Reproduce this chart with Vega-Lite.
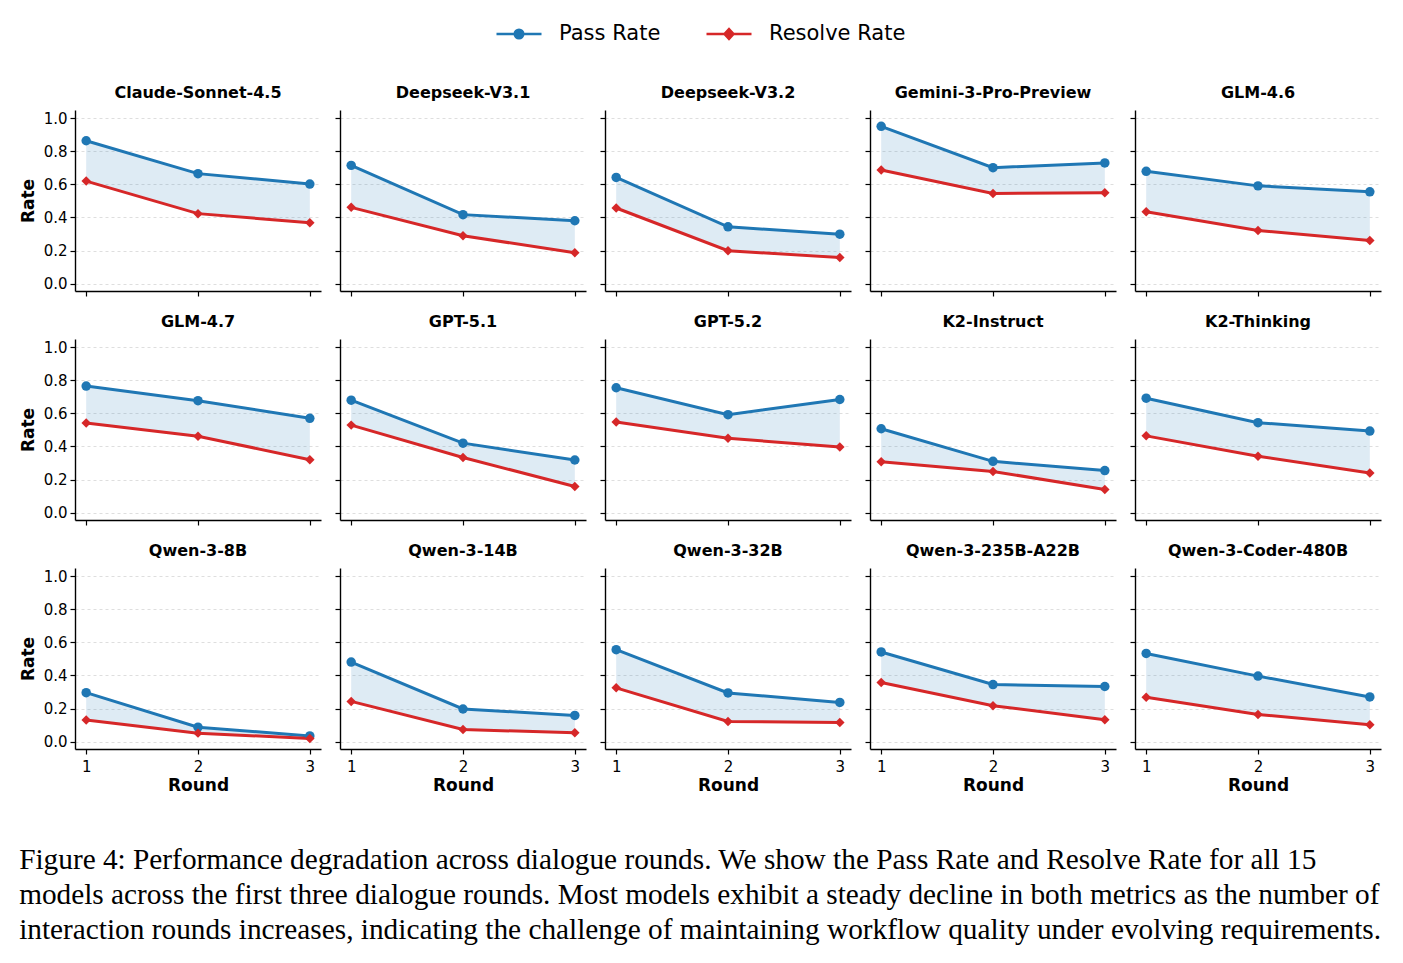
{
  "$schema": "https://vega.github.io/schema/vega-lite/v6.json",
  "padding": {"left": 19, "top": 10, "right": 5, "bottom": 5},
  "datasets": {
    "rates": [
      {"model": "Claude-Sonnet-4.5", "round": 1, "Pass Rate": 0.864, "Resolve Rate": 0.62},
      {"model": "Claude-Sonnet-4.5", "round": 2, "Pass Rate": 0.665, "Resolve Rate": 0.423},
      {"model": "Claude-Sonnet-4.5", "round": 3, "Pass Rate": 0.602, "Resolve Rate": 0.368},
      {"model": "Deepseek-V3.1", "round": 1, "Pass Rate": 0.715, "Resolve Rate": 0.461},
      {"model": "Deepseek-V3.1", "round": 2, "Pass Rate": 0.417, "Resolve Rate": 0.289},
      {"model": "Deepseek-V3.1", "round": 3, "Pass Rate": 0.38, "Resolve Rate": 0.187},
      {"model": "Deepseek-V3.2", "round": 1, "Pass Rate": 0.642, "Resolve Rate": 0.457},
      {"model": "Deepseek-V3.2", "round": 2, "Pass Rate": 0.343, "Resolve Rate": 0.199},
      {"model": "Deepseek-V3.2", "round": 3, "Pass Rate": 0.299, "Resolve Rate": 0.157},
      {"model": "Gemini-3-Pro-Preview", "round": 1, "Pass Rate": 0.951, "Resolve Rate": 0.687},
      {"model": "Gemini-3-Pro-Preview", "round": 2, "Pass Rate": 0.701, "Resolve Rate": 0.545},
      {"model": "Gemini-3-Pro-Preview", "round": 3, "Pass Rate": 0.73, "Resolve Rate": 0.549},
      {"model": "GLM-4.6", "round": 1, "Pass Rate": 0.679, "Resolve Rate": 0.435},
      {"model": "GLM-4.6", "round": 2, "Pass Rate": 0.591, "Resolve Rate": 0.321},
      {"model": "GLM-4.6", "round": 3, "Pass Rate": 0.555, "Resolve Rate": 0.26},
      {"model": "GLM-4.7", "round": 1, "Pass Rate": 0.765, "Resolve Rate": 0.542},
      {"model": "GLM-4.7", "round": 2, "Pass Rate": 0.677, "Resolve Rate": 0.462},
      {"model": "GLM-4.7", "round": 3, "Pass Rate": 0.57, "Resolve Rate": 0.32},
      {"model": "GPT-5.1", "round": 1, "Pass Rate": 0.68, "Resolve Rate": 0.529},
      {"model": "GPT-5.1", "round": 2, "Pass Rate": 0.42, "Resolve Rate": 0.333},
      {"model": "GPT-5.1", "round": 3, "Pass Rate": 0.318, "Resolve Rate": 0.158},
      {"model": "GPT-5.2", "round": 1, "Pass Rate": 0.755, "Resolve Rate": 0.548},
      {"model": "GPT-5.2", "round": 2, "Pass Rate": 0.592, "Resolve Rate": 0.45},
      {"model": "GPT-5.2", "round": 3, "Pass Rate": 0.684, "Resolve Rate": 0.396},
      {"model": "K2-Instruct", "round": 1, "Pass Rate": 0.507, "Resolve Rate": 0.308},
      {"model": "K2-Instruct", "round": 2, "Pass Rate": 0.31, "Resolve Rate": 0.249},
      {"model": "K2-Instruct", "round": 3, "Pass Rate": 0.254, "Resolve Rate": 0.14},
      {"model": "K2-Thinking", "round": 1, "Pass Rate": 0.692, "Resolve Rate": 0.464},
      {"model": "K2-Thinking", "round": 2, "Pass Rate": 0.544, "Resolve Rate": 0.341},
      {"model": "K2-Thinking", "round": 3, "Pass Rate": 0.493, "Resolve Rate": 0.239},
      {"model": "Qwen-3-8B", "round": 1, "Pass Rate": 0.296, "Resolve Rate": 0.13},
      {"model": "Qwen-3-8B", "round": 2, "Pass Rate": 0.087, "Resolve Rate": 0.051},
      {"model": "Qwen-3-8B", "round": 3, "Pass Rate": 0.034, "Resolve Rate": 0.018},
      {"model": "Qwen-3-14B", "round": 1, "Pass Rate": 0.481, "Resolve Rate": 0.243},
      {"model": "Qwen-3-14B", "round": 2, "Pass Rate": 0.197, "Resolve Rate": 0.073},
      {"model": "Qwen-3-14B", "round": 3, "Pass Rate": 0.158, "Resolve Rate": 0.053},
      {"model": "Qwen-3-32B", "round": 1, "Pass Rate": 0.556, "Resolve Rate": 0.325},
      {"model": "Qwen-3-32B", "round": 2, "Pass Rate": 0.294, "Resolve Rate": 0.122},
      {"model": "Qwen-3-32B", "round": 3, "Pass Rate": 0.237, "Resolve Rate": 0.116},
      {"model": "Qwen-3-235B-A22B", "round": 1, "Pass Rate": 0.542, "Resolve Rate": 0.357},
      {"model": "Qwen-3-235B-A22B", "round": 2, "Pass Rate": 0.345, "Resolve Rate": 0.217},
      {"model": "Qwen-3-235B-A22B", "round": 3, "Pass Rate": 0.333, "Resolve Rate": 0.132},
      {"model": "Qwen-3-Coder-480B", "round": 1, "Pass Rate": 0.533, "Resolve Rate": 0.268},
      {"model": "Qwen-3-Coder-480B", "round": 2, "Pass Rate": 0.396, "Resolve Rate": 0.164},
      {"model": "Qwen-3-Coder-480B", "round": 3, "Pass Rate": 0.27, "Resolve Rate": 0.101}
    ]
  },
  "data": {"name": "rates"},
  "title": {
    "text": [
      "Figure 4: Performance degradation across dialogue rounds. We show the Pass Rate and Resolve Rate for all 15",
      "models across the first three dialogue rounds. Most models exhibit a steady decline in both metrics as the number of",
      "interaction rounds increases, indicating the challenge of maintaining workflow quality under evolving requirements."
    ],
    "orient": "bottom", "anchor": "start", "frame": "bounds",
    "font": "Liberation Serif", "fontSize": 29.3, "fontWeight": "normal", "lineHeight": 35, "offset": 53, "color": "#000000"
  },
  "spacing": 17,
  "vconcat": [
    {"spacing": 13, "hconcat": [
      {"title": "Claude-Sonnet-4.5", "width": 246, "height": 181,
       "transform": [{"filter": {"field": "model", "equal": "Claude-Sonnet-4.5"}}],
       "encoding": {"x": {"field": "round", "type": "quantitative", "scale": {"domain": [0.9, 3.1], "nice": false, "zero": false}, "axis": {"labels": false}, "title": null}},
       "layer": [
         {"mark": {"type": "area", "color": "#1f77b4", "opacity": 0.15},
          "encoding": {"y": {"field": "Pass Rate", "type": "quantitative", "scale": {"domain": [-0.045, 1.05], "nice": false, "zero": false}, "axis": {"labels": true}, "title": "Rate"}, "y2": {"field": "Resolve Rate"}}},
         {"transform": [{"fold": ["Pass Rate", "Resolve Rate"], "as": ["metric", "value"]}],
          "encoding": {"y": {"field": "value", "type": "quantitative", "title": "Rate", "axis": {"labels": true}},
            "color": {"field": "metric", "type": "nominal", "scale": {"domain": ["Pass Rate", "Resolve Rate"], "range": ["#1f77b4", "#d62728"]},
              "legend": {"title": null, "orient": "top", "direction": "horizontal", "symbolSize": 2025, "symbolStrokeWidth": 2.5,
                "symbolType": "M-1,0L1,0M-0.19,0A0.19,0.19,0,1,1,0.19,0A0.19,0.19,0,1,1,-0.19,0Z",
                "labelFont": "DejaVu Sans", "labelFontSize": 21, "labelColor": "#000000", "labelOffset": 16, "columnPadding": 40,
                "encoding": {"symbols": {
                  "shape": {"value": {"expr": "datum.value === 'Pass Rate' ? 'M-1,0L1,0M-0.19,0A0.19,0.19,0,1,1,0.19,0A0.19,0.19,0,1,1,-0.19,0Z' : 'M-1,0L1,0M0,-0.22L0.2,0L0,0.22L-0.2,0Z'"}},
                  "fill": {"value": {"expr": "datum.value === 'Pass Rate' ? '#1f77b4' : '#d62728'"}},
                  "stroke": {"value": {"expr": "datum.value === 'Pass Rate' ? '#1f77b4' : '#d62728'"}},
                  "strokeWidth": {"value": 2.5},
                  "opacity": {"value": 1}}}}}},
          "layer": [
            {"mark": {"type": "line", "strokeWidth": 3}},
            {"transform": [{"filter": {"field": "metric", "equal": "Pass Rate"}}], "mark": {"type": "point", "filled": true, "size": 90, "opacity": 1, "shape": "circle"}},
            {"transform": [{"filter": {"field": "metric", "equal": "Resolve Rate"}}], "mark": {"type": "point", "filled": true, "size": 90, "opacity": 1, "shape": "diamond"}}
          ]}
       ]},
      {"title": "Deepseek-V3.1", "width": 246, "height": 181,
       "transform": [{"filter": {"field": "model", "equal": "Deepseek-V3.1"}}],
       "encoding": {"x": {"field": "round", "type": "quantitative", "scale": {"domain": [0.9, 3.1], "nice": false, "zero": false}, "axis": {"labels": false}, "title": null}},
       "layer": [
         {"mark": {"type": "area", "color": "#1f77b4", "opacity": 0.15},
          "encoding": {"y": {"field": "Pass Rate", "type": "quantitative", "scale": {"domain": [-0.045, 1.05], "nice": false, "zero": false}, "axis": {"labels": false}, "title": null}, "y2": {"field": "Resolve Rate"}}},
         {"transform": [{"fold": ["Pass Rate", "Resolve Rate"], "as": ["metric", "value"]}],
          "encoding": {"y": {"field": "value", "type": "quantitative", "title": null, "axis": {"labels": false}},
            "color": {"field": "metric", "type": "nominal", "scale": {"domain": ["Pass Rate", "Resolve Rate"], "range": ["#1f77b4", "#d62728"]}, "legend": null}},
          "layer": [
            {"mark": {"type": "line", "strokeWidth": 3}},
            {"transform": [{"filter": {"field": "metric", "equal": "Pass Rate"}}], "mark": {"type": "point", "filled": true, "size": 90, "opacity": 1, "shape": "circle"}},
            {"transform": [{"filter": {"field": "metric", "equal": "Resolve Rate"}}], "mark": {"type": "point", "filled": true, "size": 90, "opacity": 1, "shape": "diamond"}}
          ]}
       ]},
      {"title": "Deepseek-V3.2", "width": 246, "height": 181,
       "transform": [{"filter": {"field": "model", "equal": "Deepseek-V3.2"}}],
       "encoding": {"x": {"field": "round", "type": "quantitative", "scale": {"domain": [0.9, 3.1], "nice": false, "zero": false}, "axis": {"labels": false}, "title": null}},
       "layer": [
         {"mark": {"type": "area", "color": "#1f77b4", "opacity": 0.15},
          "encoding": {"y": {"field": "Pass Rate", "type": "quantitative", "scale": {"domain": [-0.045, 1.05], "nice": false, "zero": false}, "axis": {"labels": false}, "title": null}, "y2": {"field": "Resolve Rate"}}},
         {"transform": [{"fold": ["Pass Rate", "Resolve Rate"], "as": ["metric", "value"]}],
          "encoding": {"y": {"field": "value", "type": "quantitative", "title": null, "axis": {"labels": false}},
            "color": {"field": "metric", "type": "nominal", "scale": {"domain": ["Pass Rate", "Resolve Rate"], "range": ["#1f77b4", "#d62728"]}, "legend": null}},
          "layer": [
            {"mark": {"type": "line", "strokeWidth": 3}},
            {"transform": [{"filter": {"field": "metric", "equal": "Pass Rate"}}], "mark": {"type": "point", "filled": true, "size": 90, "opacity": 1, "shape": "circle"}},
            {"transform": [{"filter": {"field": "metric", "equal": "Resolve Rate"}}], "mark": {"type": "point", "filled": true, "size": 90, "opacity": 1, "shape": "diamond"}}
          ]}
       ]},
      {"title": "Gemini-3-Pro-Preview", "width": 246, "height": 181,
       "transform": [{"filter": {"field": "model", "equal": "Gemini-3-Pro-Preview"}}],
       "encoding": {"x": {"field": "round", "type": "quantitative", "scale": {"domain": [0.9, 3.1], "nice": false, "zero": false}, "axis": {"labels": false}, "title": null}},
       "layer": [
         {"mark": {"type": "area", "color": "#1f77b4", "opacity": 0.15},
          "encoding": {"y": {"field": "Pass Rate", "type": "quantitative", "scale": {"domain": [-0.045, 1.05], "nice": false, "zero": false}, "axis": {"labels": false}, "title": null}, "y2": {"field": "Resolve Rate"}}},
         {"transform": [{"fold": ["Pass Rate", "Resolve Rate"], "as": ["metric", "value"]}],
          "encoding": {"y": {"field": "value", "type": "quantitative", "title": null, "axis": {"labels": false}},
            "color": {"field": "metric", "type": "nominal", "scale": {"domain": ["Pass Rate", "Resolve Rate"], "range": ["#1f77b4", "#d62728"]}, "legend": null}},
          "layer": [
            {"mark": {"type": "line", "strokeWidth": 3}},
            {"transform": [{"filter": {"field": "metric", "equal": "Pass Rate"}}], "mark": {"type": "point", "filled": true, "size": 90, "opacity": 1, "shape": "circle"}},
            {"transform": [{"filter": {"field": "metric", "equal": "Resolve Rate"}}], "mark": {"type": "point", "filled": true, "size": 90, "opacity": 1, "shape": "diamond"}}
          ]}
       ]},
      {"title": "GLM-4.6", "width": 246, "height": 181,
       "transform": [{"filter": {"field": "model", "equal": "GLM-4.6"}}],
       "encoding": {"x": {"field": "round", "type": "quantitative", "scale": {"domain": [0.9, 3.1], "nice": false, "zero": false}, "axis": {"labels": false}, "title": null}},
       "layer": [
         {"mark": {"type": "area", "color": "#1f77b4", "opacity": 0.15},
          "encoding": {"y": {"field": "Pass Rate", "type": "quantitative", "scale": {"domain": [-0.045, 1.05], "nice": false, "zero": false}, "axis": {"labels": false}, "title": null}, "y2": {"field": "Resolve Rate"}}},
         {"transform": [{"fold": ["Pass Rate", "Resolve Rate"], "as": ["metric", "value"]}],
          "encoding": {"y": {"field": "value", "type": "quantitative", "title": null, "axis": {"labels": false}},
            "color": {"field": "metric", "type": "nominal", "scale": {"domain": ["Pass Rate", "Resolve Rate"], "range": ["#1f77b4", "#d62728"]}, "legend": null}},
          "layer": [
            {"mark": {"type": "line", "strokeWidth": 3}},
            {"transform": [{"filter": {"field": "metric", "equal": "Pass Rate"}}], "mark": {"type": "point", "filled": true, "size": 90, "opacity": 1, "shape": "circle"}},
            {"transform": [{"filter": {"field": "metric", "equal": "Resolve Rate"}}], "mark": {"type": "point", "filled": true, "size": 90, "opacity": 1, "shape": "diamond"}}
          ]}
       ]}
    ]},
    {"spacing": 13, "hconcat": [
      {"title": "GLM-4.7", "width": 246, "height": 181,
       "transform": [{"filter": {"field": "model", "equal": "GLM-4.7"}}],
       "encoding": {"x": {"field": "round", "type": "quantitative", "scale": {"domain": [0.9, 3.1], "nice": false, "zero": false}, "axis": {"labels": false}, "title": null}},
       "layer": [
         {"mark": {"type": "area", "color": "#1f77b4", "opacity": 0.15},
          "encoding": {"y": {"field": "Pass Rate", "type": "quantitative", "scale": {"domain": [-0.045, 1.05], "nice": false, "zero": false}, "axis": {"labels": true}, "title": "Rate"}, "y2": {"field": "Resolve Rate"}}},
         {"transform": [{"fold": ["Pass Rate", "Resolve Rate"], "as": ["metric", "value"]}],
          "encoding": {"y": {"field": "value", "type": "quantitative", "title": "Rate", "axis": {"labels": true}},
            "color": {"field": "metric", "type": "nominal", "scale": {"domain": ["Pass Rate", "Resolve Rate"], "range": ["#1f77b4", "#d62728"]}, "legend": null}},
          "layer": [
            {"mark": {"type": "line", "strokeWidth": 3}},
            {"transform": [{"filter": {"field": "metric", "equal": "Pass Rate"}}], "mark": {"type": "point", "filled": true, "size": 90, "opacity": 1, "shape": "circle"}},
            {"transform": [{"filter": {"field": "metric", "equal": "Resolve Rate"}}], "mark": {"type": "point", "filled": true, "size": 90, "opacity": 1, "shape": "diamond"}}
          ]}
       ]},
      {"title": "GPT-5.1", "width": 246, "height": 181,
       "transform": [{"filter": {"field": "model", "equal": "GPT-5.1"}}],
       "encoding": {"x": {"field": "round", "type": "quantitative", "scale": {"domain": [0.9, 3.1], "nice": false, "zero": false}, "axis": {"labels": false}, "title": null}},
       "layer": [
         {"mark": {"type": "area", "color": "#1f77b4", "opacity": 0.15},
          "encoding": {"y": {"field": "Pass Rate", "type": "quantitative", "scale": {"domain": [-0.045, 1.05], "nice": false, "zero": false}, "axis": {"labels": false}, "title": null}, "y2": {"field": "Resolve Rate"}}},
         {"transform": [{"fold": ["Pass Rate", "Resolve Rate"], "as": ["metric", "value"]}],
          "encoding": {"y": {"field": "value", "type": "quantitative", "title": null, "axis": {"labels": false}},
            "color": {"field": "metric", "type": "nominal", "scale": {"domain": ["Pass Rate", "Resolve Rate"], "range": ["#1f77b4", "#d62728"]}, "legend": null}},
          "layer": [
            {"mark": {"type": "line", "strokeWidth": 3}},
            {"transform": [{"filter": {"field": "metric", "equal": "Pass Rate"}}], "mark": {"type": "point", "filled": true, "size": 90, "opacity": 1, "shape": "circle"}},
            {"transform": [{"filter": {"field": "metric", "equal": "Resolve Rate"}}], "mark": {"type": "point", "filled": true, "size": 90, "opacity": 1, "shape": "diamond"}}
          ]}
       ]},
      {"title": "GPT-5.2", "width": 246, "height": 181,
       "transform": [{"filter": {"field": "model", "equal": "GPT-5.2"}}],
       "encoding": {"x": {"field": "round", "type": "quantitative", "scale": {"domain": [0.9, 3.1], "nice": false, "zero": false}, "axis": {"labels": false}, "title": null}},
       "layer": [
         {"mark": {"type": "area", "color": "#1f77b4", "opacity": 0.15},
          "encoding": {"y": {"field": "Pass Rate", "type": "quantitative", "scale": {"domain": [-0.045, 1.05], "nice": false, "zero": false}, "axis": {"labels": false}, "title": null}, "y2": {"field": "Resolve Rate"}}},
         {"transform": [{"fold": ["Pass Rate", "Resolve Rate"], "as": ["metric", "value"]}],
          "encoding": {"y": {"field": "value", "type": "quantitative", "title": null, "axis": {"labels": false}},
            "color": {"field": "metric", "type": "nominal", "scale": {"domain": ["Pass Rate", "Resolve Rate"], "range": ["#1f77b4", "#d62728"]}, "legend": null}},
          "layer": [
            {"mark": {"type": "line", "strokeWidth": 3}},
            {"transform": [{"filter": {"field": "metric", "equal": "Pass Rate"}}], "mark": {"type": "point", "filled": true, "size": 90, "opacity": 1, "shape": "circle"}},
            {"transform": [{"filter": {"field": "metric", "equal": "Resolve Rate"}}], "mark": {"type": "point", "filled": true, "size": 90, "opacity": 1, "shape": "diamond"}}
          ]}
       ]},
      {"title": "K2-Instruct", "width": 246, "height": 181,
       "transform": [{"filter": {"field": "model", "equal": "K2-Instruct"}}],
       "encoding": {"x": {"field": "round", "type": "quantitative", "scale": {"domain": [0.9, 3.1], "nice": false, "zero": false}, "axis": {"labels": false}, "title": null}},
       "layer": [
         {"mark": {"type": "area", "color": "#1f77b4", "opacity": 0.15},
          "encoding": {"y": {"field": "Pass Rate", "type": "quantitative", "scale": {"domain": [-0.045, 1.05], "nice": false, "zero": false}, "axis": {"labels": false}, "title": null}, "y2": {"field": "Resolve Rate"}}},
         {"transform": [{"fold": ["Pass Rate", "Resolve Rate"], "as": ["metric", "value"]}],
          "encoding": {"y": {"field": "value", "type": "quantitative", "title": null, "axis": {"labels": false}},
            "color": {"field": "metric", "type": "nominal", "scale": {"domain": ["Pass Rate", "Resolve Rate"], "range": ["#1f77b4", "#d62728"]}, "legend": null}},
          "layer": [
            {"mark": {"type": "line", "strokeWidth": 3}},
            {"transform": [{"filter": {"field": "metric", "equal": "Pass Rate"}}], "mark": {"type": "point", "filled": true, "size": 90, "opacity": 1, "shape": "circle"}},
            {"transform": [{"filter": {"field": "metric", "equal": "Resolve Rate"}}], "mark": {"type": "point", "filled": true, "size": 90, "opacity": 1, "shape": "diamond"}}
          ]}
       ]},
      {"title": "K2-Thinking", "width": 246, "height": 181,
       "transform": [{"filter": {"field": "model", "equal": "K2-Thinking"}}],
       "encoding": {"x": {"field": "round", "type": "quantitative", "scale": {"domain": [0.9, 3.1], "nice": false, "zero": false}, "axis": {"labels": false}, "title": null}},
       "layer": [
         {"mark": {"type": "area", "color": "#1f77b4", "opacity": 0.15},
          "encoding": {"y": {"field": "Pass Rate", "type": "quantitative", "scale": {"domain": [-0.045, 1.05], "nice": false, "zero": false}, "axis": {"labels": false}, "title": null}, "y2": {"field": "Resolve Rate"}}},
         {"transform": [{"fold": ["Pass Rate", "Resolve Rate"], "as": ["metric", "value"]}],
          "encoding": {"y": {"field": "value", "type": "quantitative", "title": null, "axis": {"labels": false}},
            "color": {"field": "metric", "type": "nominal", "scale": {"domain": ["Pass Rate", "Resolve Rate"], "range": ["#1f77b4", "#d62728"]}, "legend": null}},
          "layer": [
            {"mark": {"type": "line", "strokeWidth": 3}},
            {"transform": [{"filter": {"field": "metric", "equal": "Pass Rate"}}], "mark": {"type": "point", "filled": true, "size": 90, "opacity": 1, "shape": "circle"}},
            {"transform": [{"filter": {"field": "metric", "equal": "Resolve Rate"}}], "mark": {"type": "point", "filled": true, "size": 90, "opacity": 1, "shape": "diamond"}}
          ]}
       ]}
    ]},
    {"spacing": 13, "hconcat": [
      {"title": "Qwen-3-8B", "width": 246, "height": 181,
       "transform": [{"filter": {"field": "model", "equal": "Qwen-3-8B"}}],
       "encoding": {"x": {"field": "round", "type": "quantitative", "scale": {"domain": [0.9, 3.1], "nice": false, "zero": false}, "axis": {"labels": true}, "title": "Round"}},
       "layer": [
         {"mark": {"type": "area", "color": "#1f77b4", "opacity": 0.15},
          "encoding": {"y": {"field": "Pass Rate", "type": "quantitative", "scale": {"domain": [-0.045, 1.05], "nice": false, "zero": false}, "axis": {"labels": true}, "title": "Rate"}, "y2": {"field": "Resolve Rate"}}},
         {"transform": [{"fold": ["Pass Rate", "Resolve Rate"], "as": ["metric", "value"]}],
          "encoding": {"y": {"field": "value", "type": "quantitative", "title": "Rate", "axis": {"labels": true}},
            "color": {"field": "metric", "type": "nominal", "scale": {"domain": ["Pass Rate", "Resolve Rate"], "range": ["#1f77b4", "#d62728"]}, "legend": null}},
          "layer": [
            {"mark": {"type": "line", "strokeWidth": 3}},
            {"transform": [{"filter": {"field": "metric", "equal": "Pass Rate"}}], "mark": {"type": "point", "filled": true, "size": 90, "opacity": 1, "shape": "circle"}},
            {"transform": [{"filter": {"field": "metric", "equal": "Resolve Rate"}}], "mark": {"type": "point", "filled": true, "size": 90, "opacity": 1, "shape": "diamond"}}
          ]}
       ]},
      {"title": "Qwen-3-14B", "width": 246, "height": 181,
       "transform": [{"filter": {"field": "model", "equal": "Qwen-3-14B"}}],
       "encoding": {"x": {"field": "round", "type": "quantitative", "scale": {"domain": [0.9, 3.1], "nice": false, "zero": false}, "axis": {"labels": true}, "title": "Round"}},
       "layer": [
         {"mark": {"type": "area", "color": "#1f77b4", "opacity": 0.15},
          "encoding": {"y": {"field": "Pass Rate", "type": "quantitative", "scale": {"domain": [-0.045, 1.05], "nice": false, "zero": false}, "axis": {"labels": false}, "title": null}, "y2": {"field": "Resolve Rate"}}},
         {"transform": [{"fold": ["Pass Rate", "Resolve Rate"], "as": ["metric", "value"]}],
          "encoding": {"y": {"field": "value", "type": "quantitative", "title": null, "axis": {"labels": false}},
            "color": {"field": "metric", "type": "nominal", "scale": {"domain": ["Pass Rate", "Resolve Rate"], "range": ["#1f77b4", "#d62728"]}, "legend": null}},
          "layer": [
            {"mark": {"type": "line", "strokeWidth": 3}},
            {"transform": [{"filter": {"field": "metric", "equal": "Pass Rate"}}], "mark": {"type": "point", "filled": true, "size": 90, "opacity": 1, "shape": "circle"}},
            {"transform": [{"filter": {"field": "metric", "equal": "Resolve Rate"}}], "mark": {"type": "point", "filled": true, "size": 90, "opacity": 1, "shape": "diamond"}}
          ]}
       ]},
      {"title": "Qwen-3-32B", "width": 246, "height": 181,
       "transform": [{"filter": {"field": "model", "equal": "Qwen-3-32B"}}],
       "encoding": {"x": {"field": "round", "type": "quantitative", "scale": {"domain": [0.9, 3.1], "nice": false, "zero": false}, "axis": {"labels": true}, "title": "Round"}},
       "layer": [
         {"mark": {"type": "area", "color": "#1f77b4", "opacity": 0.15},
          "encoding": {"y": {"field": "Pass Rate", "type": "quantitative", "scale": {"domain": [-0.045, 1.05], "nice": false, "zero": false}, "axis": {"labels": false}, "title": null}, "y2": {"field": "Resolve Rate"}}},
         {"transform": [{"fold": ["Pass Rate", "Resolve Rate"], "as": ["metric", "value"]}],
          "encoding": {"y": {"field": "value", "type": "quantitative", "title": null, "axis": {"labels": false}},
            "color": {"field": "metric", "type": "nominal", "scale": {"domain": ["Pass Rate", "Resolve Rate"], "range": ["#1f77b4", "#d62728"]}, "legend": null}},
          "layer": [
            {"mark": {"type": "line", "strokeWidth": 3}},
            {"transform": [{"filter": {"field": "metric", "equal": "Pass Rate"}}], "mark": {"type": "point", "filled": true, "size": 90, "opacity": 1, "shape": "circle"}},
            {"transform": [{"filter": {"field": "metric", "equal": "Resolve Rate"}}], "mark": {"type": "point", "filled": true, "size": 90, "opacity": 1, "shape": "diamond"}}
          ]}
       ]},
      {"title": "Qwen-3-235B-A22B", "width": 246, "height": 181,
       "transform": [{"filter": {"field": "model", "equal": "Qwen-3-235B-A22B"}}],
       "encoding": {"x": {"field": "round", "type": "quantitative", "scale": {"domain": [0.9, 3.1], "nice": false, "zero": false}, "axis": {"labels": true}, "title": "Round"}},
       "layer": [
         {"mark": {"type": "area", "color": "#1f77b4", "opacity": 0.15},
          "encoding": {"y": {"field": "Pass Rate", "type": "quantitative", "scale": {"domain": [-0.045, 1.05], "nice": false, "zero": false}, "axis": {"labels": false}, "title": null}, "y2": {"field": "Resolve Rate"}}},
         {"transform": [{"fold": ["Pass Rate", "Resolve Rate"], "as": ["metric", "value"]}],
          "encoding": {"y": {"field": "value", "type": "quantitative", "title": null, "axis": {"labels": false}},
            "color": {"field": "metric", "type": "nominal", "scale": {"domain": ["Pass Rate", "Resolve Rate"], "range": ["#1f77b4", "#d62728"]}, "legend": null}},
          "layer": [
            {"mark": {"type": "line", "strokeWidth": 3}},
            {"transform": [{"filter": {"field": "metric", "equal": "Pass Rate"}}], "mark": {"type": "point", "filled": true, "size": 90, "opacity": 1, "shape": "circle"}},
            {"transform": [{"filter": {"field": "metric", "equal": "Resolve Rate"}}], "mark": {"type": "point", "filled": true, "size": 90, "opacity": 1, "shape": "diamond"}}
          ]}
       ]},
      {"title": "Qwen-3-Coder-480B", "width": 246, "height": 181,
       "transform": [{"filter": {"field": "model", "equal": "Qwen-3-Coder-480B"}}],
       "encoding": {"x": {"field": "round", "type": "quantitative", "scale": {"domain": [0.9, 3.1], "nice": false, "zero": false}, "axis": {"labels": true}, "title": "Round"}},
       "layer": [
         {"mark": {"type": "area", "color": "#1f77b4", "opacity": 0.15},
          "encoding": {"y": {"field": "Pass Rate", "type": "quantitative", "scale": {"domain": [-0.045, 1.05], "nice": false, "zero": false}, "axis": {"labels": false}, "title": null}, "y2": {"field": "Resolve Rate"}}},
         {"transform": [{"fold": ["Pass Rate", "Resolve Rate"], "as": ["metric", "value"]}],
          "encoding": {"y": {"field": "value", "type": "quantitative", "title": null, "axis": {"labels": false}},
            "color": {"field": "metric", "type": "nominal", "scale": {"domain": ["Pass Rate", "Resolve Rate"], "range": ["#1f77b4", "#d62728"]}, "legend": null}},
          "layer": [
            {"mark": {"type": "line", "strokeWidth": 3}},
            {"transform": [{"filter": {"field": "metric", "equal": "Pass Rate"}}], "mark": {"type": "point", "filled": true, "size": 90, "opacity": 1, "shape": "circle"}},
            {"transform": [{"filter": {"field": "metric", "equal": "Resolve Rate"}}], "mark": {"type": "point", "filled": true, "size": 90, "opacity": 1, "shape": "diamond"}}
          ]}
       ]}
    ]}
  ],
  "config": {
    "view": {"stroke": null},
    "font": "DejaVu Sans",
    "title": {"font": "DejaVu Sans", "fontSize": 16, "fontWeight": "bold", "color": "#000000", "offset": 9},
    "axis": {
      "domainColor": "#000000", "domainWidth": 1.4,
      "tickColor": "#000000", "tickWidth": 1.2, "tickSize": 5,
      "labelFont": "DejaVu Sans", "labelFontSize": 15, "labelColor": "#000000", "labelPadding": 3,
      "titleFont": "DejaVu Sans", "titleFontSize": 17, "titleFontWeight": "bold", "titleColor": "#000000"
    },
    "axisX": {"grid": false, "tickCount": 3, "labelAngle": 0, "labelPadding": 5, "titlePadding": 3},
    "axisY": {"grid": true, "gridDash": [3, 3], "gridColor": "#d6d6d6", "gridWidth": 0.8, "tickCount": 6, "format": ".1f", "titlePadding": 6},
    "legend": {"layout": {"top": {"anchor": "middle"}}, "offset": 41}
  }
}
